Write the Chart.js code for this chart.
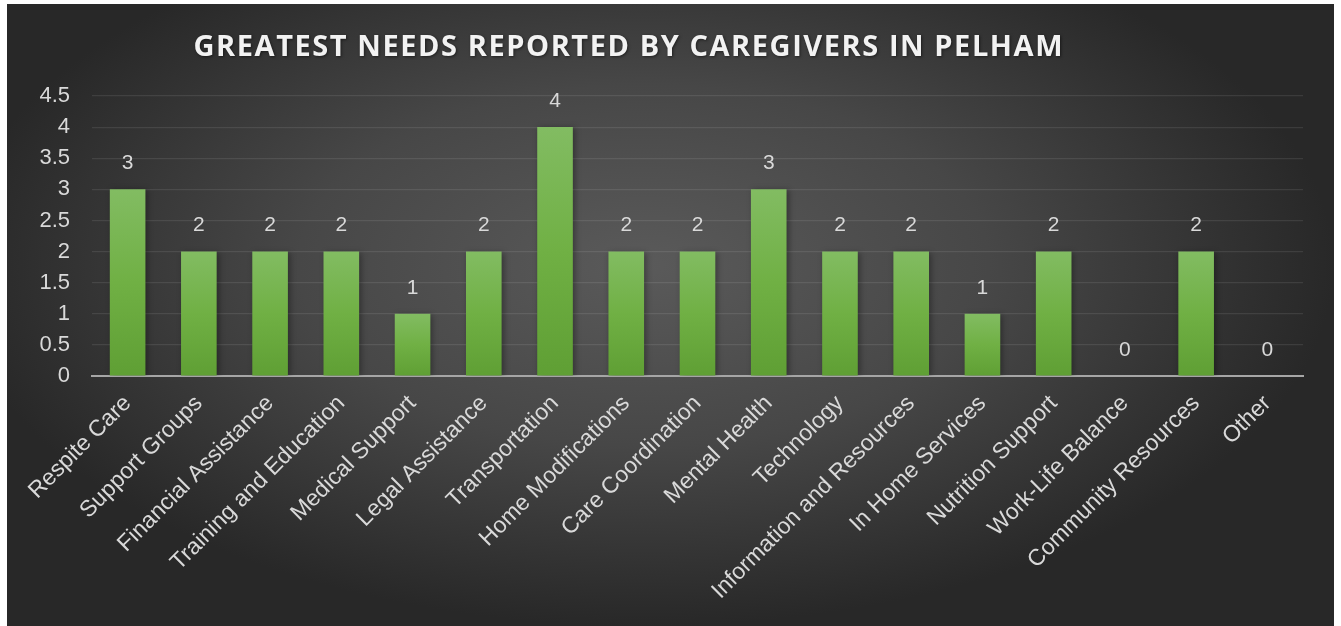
<!DOCTYPE html>
<html>
<head>
<meta charset="utf-8">
<script src="https://cdn.jsdelivr.net/npm/chart.js@4.4.1/dist/chart.umd.min.js"></script>
<style>
  html, body { margin: 0; padding: 0; background: #ffffff; }
  body { width: 1341px; height: 626px; position: relative; overflow: hidden; }
  #marco {
    position: absolute; left: 7px; top: 4px; width: 1327px; height: 622px;
    background: radial-gradient(ellipse farthest-side at 48% 42%, #5a5a5a 0%, #474747 50%, #282828 100%);
  }
  #grafica { display: block; }
</style>
</head>
<body>
<div id="marco"><canvas id="grafica" width="1327" height="622"></canvas></div>
<script>
// datos
const titulo = 'GREATEST NEEDS REPORTED BY CAREGIVERS IN PELHAM';
const categorias = [
  'Respite Care', 'Support Groups', 'Financial Assistance', 'Training and Education',
  'Medical Support', 'Legal Assistance', 'Transportation', 'Home Modifications',
  'Care Coordination', 'Mental Health', 'Technology', 'Information and Resources',
  'In Home Services', 'Nutrition Support', 'Work-Life Balance', 'Community Resources', 'Other'
];
const valores = [3, 2, 2, 2, 1, 2, 4, 2, 2, 3, 2, 2, 1, 2, 0, 2, 0];
const ejeY = { min: 0, max: 4.5, paso: 0.5 };

const textoGris = '#d9d9d9';
const fuente = '"Liberation Sans", Arial, sans-serif';

// titulo con espaciado entre letras (Chart.js no lo trae)
const pluginTitulo = {
  id: 'tituloEspaciado',
  afterDraw(chart) {
    const ctx = chart.ctx;
    ctx.save();
    ctx.font = 'bold 29px "Open Sans", sans-serif';
    ctx.fillStyle = '#f2f2f2';
    ctx.textBaseline = 'middle';
    ctx.textAlign = 'center';
    const anchoBase = ctx.measureText(titulo).width;
    const espacio = Math.max(0, (869 - anchoBase) / (titulo.length - 1));
    ctx.letterSpacing = espacio + 'px';
    ctx.shadowColor = 'rgba(0,0,0,0.5)';
    ctx.shadowBlur = 3;
    ctx.shadowOffsetX = 1;
    ctx.shadowOffsetY = 1;
    ctx.fillText(titulo, 621 + espacio / 2, 44);
    ctx.restore();
  }
};

// etiquetas de valor encima de cada barra
const pluginEtiquetas = {
  id: 'etiquetasValor',
  afterDatasetsDraw(chart) {
    const ctx = chart.ctx;
    const meta = chart.getDatasetMeta(0);
    ctx.save();
    ctx.font = '21px ' + fuente;
    ctx.fillStyle = textoGris;
    ctx.textAlign = 'center';
    ctx.textBaseline = 'middle';
    meta.data.forEach((barra, i) => {
      ctx.fillText(String(valores[i]), barra.x, barra.y - 26);
    });
    ctx.restore();
  }
};

// sombra suave de las barras
const pluginSombra = {
  id: 'sombraBarras',
  beforeDatasetsDraw(chart) {
    const ctx = chart.ctx;
    ctx.save();
    ctx.shadowColor = 'rgba(0,0,0,0.35)';
    ctx.shadowBlur = 6;
    ctx.shadowOffsetX = 2;
    ctx.shadowOffsetY = 1;
  },
  afterDatasetsDraw(chart) {
    chart.ctx.restore();
  }
};

function degradadoBarra(context) {
  const chart = context.chart;
  if (!chart.chartArea) return '#6aab45';
  const y = chart.scales.y;
  const arriba = y.getPixelForValue(valores[context.dataIndex]);
  const abajo = y.getPixelForValue(0);
  if (abajo - arriba < 1) return '#6aab45';
  const g = chart.ctx.createLinearGradient(0, arriba, 0, abajo);
  g.addColorStop(0, '#82bc62');
  g.addColorStop(0.5, '#70b044');
  g.addColorStop(1, '#5f9f34');
  return g;
}

new Chart(document.getElementById('grafica'), {
  type: 'bar',
  data: {
    labels: categorias,
    datasets: [{
      data: valores,
      backgroundColor: degradadoBarra,
      borderWidth: 0,
      barPercentage: 0.5,
      categoryPercentage: 1.0
    }]
  },
  options: {
    responsive: false,
    animation: false,
    layout: { padding: { top: 92, right: 31, left: 0, bottom: 0 } },
    plugins: {
      legend: { display: false },
      title: { display: false },
      tooltip: { enabled: false }
    },
    scales: {
      x: {
        grid: { display: false, drawTicks: false },
        border: { display: true, color: '#a6a6a6', width: 2 },
        ticks: {
          color: textoGris,
          font: { family: fuente, size: 23 },
          minRotation: 45,
          maxRotation: 45,
          autoSkip: false,
          padding: 14
        },
        afterFit(scale) { scale.height = 250; }
      },
      y: {
        min: ejeY.min,
        max: ejeY.max,
        grid: { color: 'rgba(255,255,255,0.09)', lineWidth: 1.2, drawTicks: false },
        border: { display: false },
        ticks: {
          stepSize: ejeY.paso,
          color: textoGris,
          font: { family: fuente, size: 22 },
          padding: 22,
          callback: (v) => String(Math.round(v * 10) / 10)
        },
        afterFit(scale) { scale.width = 85; }
      }
    }
  },
  plugins: [pluginSombra, pluginEtiquetas, pluginTitulo]
});
</script>
</body>
</html>
